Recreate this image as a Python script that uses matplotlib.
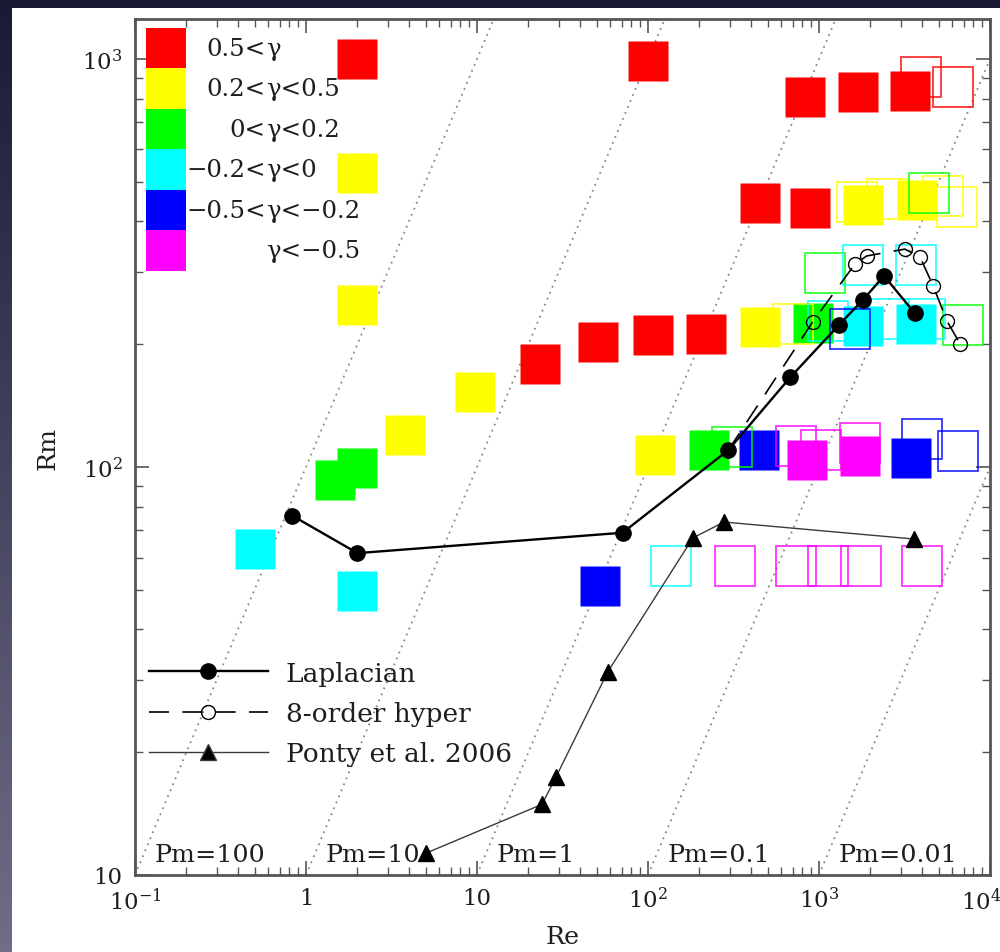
import numpy as np
import matplotlib
matplotlib.use("Agg")
from matplotlib import pyplot as plt
from matplotlib.lines import Line2D
from matplotlib.patches import Rectangle
from matplotlib import ticker
from matplotlib.transforms import offset_copy

plt.rcParams["font.family"] = ["DejaVu Serif", "DejaVu Sans"]
plt.rcParams["mathtext.fontset"] = "dejavuserif"

# filled squares = this work, open squares = second set of runs
RED_FILL_RE = [2.0, 100, 830, 1690, 3400, 452, 886, 23.4, 51, 107, 218]
RED_FILL_RM = [1000, 990, 807, 830, 835, 444, 431, 179, 202, 211, 212]
RED_OPEN_RE = [3950, 6080]
RED_OPEN_RM = [903, 854]

YEL_FILL_RE = [2.0, 2.0, 3.8, 9.7, 110, 452, 1808, 3740]
YEL_FILL_RM = [526, 250, 120, 153, 107, 220, 439, 451]
YEL_OPEN_RE = [1668, 2500, 5310, 6410, 705]
YEL_OPEN_RM = [446, 454, 462, 434, 224]

GRN_FILL_RE = [1.48, 2.0, 922, 227]
GRN_FILL_RM = [93, 99.4, 225, 110]
GRN_OPEN_RE = [1084, 4400, 6950, 310]
GRN_OPEN_RM = [299, 469, 223, 112]

CYN_FILL_RE = [0.5, 2.0, 1808, 3690]
CYN_FILL_RM = [63, 49.7, 221.5, 224]
CYN_OPEN_RE = [1129, 1808, 3690, 2570, 4170, 136]
CYN_OPEN_RM = [228, 313, 313, 230, 230, 57.2]

BLU_FILL_RE = [52.4, 446, 3450]
BLU_FILL_RM = [51.1, 110, 105.2]
BLU_OPEN_RE = [1518, 4000, 6500]
BLU_OPEN_RM = [218, 117, 109.5]

MAG_FILL_RE = [851, 1738]
MAG_FILL_RM = [104, 106.4]
MAG_OPEN_RE = [733, 1028, 1738, 323, 733, 1129, 1762, 4000]
MAG_OPEN_RM = [112.5, 110, 114.5, 57.2, 57.2, 57.2, 57.2, 57.2]

LAP_RE = [0.83, 2.0, 71, 295, 680, 1310, 1810, 2400, 3640]
LAP_RM = [76, 61.5, 69, 110, 166, 223, 257, 294, 238]

HYP_RE = [295, 920, 1620, 1900, 3180, 3900, 4650, 5600, 6700]
HYP_RM = [110, 227, 314, 329, 342, 327, 278, 228, 200]

PONTY_RE = [5.0, 24, 29, 58, 183, 278, 3600]
PONTY_RM = [11.3, 14.9, 17.4, 31.4, 67, 73.3, 66.6]

PM_VALUES = [100, 10, 1, 0.1, 0.01]
PM_LABELS = ["Pm=100", "Pm=10", "Pm=1", "Pm=0.1", "Pm=0.01"]

GAMMA_COLORS = ["#ff0000", "#ffff00", "#00ff00", "#00ffff", "#0000ff", "#ff00ff"]
GAMMA_LEFT = ["0.5<", "0.2<", "0<", "\u22120.2<", "\u22120.5<", ""]
GAMMA_RIGHT = ["\u03b3", "\u03b3<0.5", "\u03b3<0.2", "\u03b3<0", "\u03b3<\u22120.2", "\u03b3<\u22120.5"]

FS = 16.5      # tick labels
FS_KEY = 18.3  # Pm labels, axis labels
FS_GAM = 17.6  # colour key
FS_LEG = 19    # line legend
TXT = "#1e1e1e"

fig = plt.figure(figsize=(10, 9.53), dpi=100)

# slide background + white panel
bg = fig.add_axes([0, 0, 1, 1])
bg.axis("off")
t = np.linspace(0, 1, 200)[:, None, None]
top = np.array([26, 26, 52]) / 255
bot = np.array([112, 110, 135]) / 255
grad = np.repeat(top + (bot - top) * t, 2, axis=1)
bg.imshow(grad, extent=(0, 1, 0, 1), aspect="auto", transform=bg.transAxes)
bg.add_patch(Rectangle((0.012, 0), 0.988, 0.9906, transform=bg.transAxes,
                       fc="white", ec="none"))
bg.set_xlim(0, 1)
bg.set_ylim(0, 1)

ax = fig.add_axes([0.135, 0.0808, 0.855, 0.8982])
ax.set_xscale("log")
ax.set_yscale("log")
ax.set_xlim(0.1, 1e4)
ax.set_ylim(10, 1253)

# constant Pm lines
re_line = np.array([0.1, 1e4])
for pm, lab in zip(PM_VALUES, PM_LABELS):
    ax.plot(re_line, pm * re_line, color="#888888", lw=1.3,
            ls=(0, (1, 2.6)), zorder=1)
    ax.text(1.3 * 10 / pm, 11.2, lab, fontsize=FS_KEY, ha="left", va="center",
            color=TXT, zorder=2)

sq = 28.8
filled = [
    (RED_FILL_RE, RED_FILL_RM), (YEL_FILL_RE, YEL_FILL_RM),
    (GRN_FILL_RE, GRN_FILL_RM), (CYN_FILL_RE, CYN_FILL_RM),
    (BLU_FILL_RE, BLU_FILL_RM), (MAG_FILL_RE, MAG_FILL_RM),
]
opened = [
    (RED_OPEN_RE, RED_OPEN_RM), (YEL_OPEN_RE, YEL_OPEN_RM),
    (GRN_OPEN_RE, GRN_OPEN_RM), (CYN_OPEN_RE, CYN_OPEN_RM),
    (BLU_OPEN_RE, BLU_OPEN_RM), (MAG_OPEN_RE, MAG_OPEN_RM),
]
for (x, y), c in zip(filled, GAMMA_COLORS):
    ax.plot(x, y, ls="none", marker="s", ms=sq, mfc=c, mec="none", zorder=3)
for (x, y), c in zip(opened, GAMMA_COLORS):
    ax.plot(x, y, ls="none", marker="s", ms=sq, mfc="none", mec=c,
            mew=1.3, alpha=0.8, zorder=4)

ax.plot(LAP_RE, LAP_RM, color="black", lw=1.7, marker="o", ms=11, zorder=6)
ax.plot(HYP_RE, HYP_RM, color="black", lw=1.2, dashes=(12, 8), marker="o",
        ms=10, mfc="none", mew=1.0, markevery=slice(1, None), zorder=5)
ax.plot(PONTY_RE, PONTY_RM, color="#3a3a3a", lw=1.0, marker="^", ms=12,
        mfc="black", mec="black", zorder=5)

# gamma colour key, text lined up on the gamma
split = 0.153
for i, (c, left, right) in enumerate(zip(GAMMA_COLORS, GAMMA_LEFT, GAMMA_RIGHT)):
    y0 = 0.9895 - 0.0473 * (i + 1)
    ax.add_patch(Rectangle((0.0129, y0), 0.0468, 0.0473, transform=ax.transAxes,
                           fc=c, ec="none", zorder=7))
    yc = y0 + 0.0473 / 2
    ax.text(split, yc, left, transform=ax.transAxes, fontsize=FS_GAM,
            ha="right", va="center", color=TXT, zorder=7)
    ax.text(split, yc, right, transform=ax.transAxes, fontsize=FS_GAM,
            ha="left", va="center", color=TXT, zorder=7)

handles = [
    Line2D([], [], color="black", lw=1.7, marker="o", ms=11),
    Line2D([], [], color="black", lw=1.2, dashes=(12, 8), marker="o", ms=10,
           mfc="none", mew=1.0),
    Line2D([], [], color="#3a3a3a", lw=1.0, marker="^", ms=12, mfc="black"),
]
leg = ax.legend(handles, ["Laplacian", "8-order hyper", "Ponty et al. 2006"],
                loc="upper left", bbox_to_anchor=(0.0164, 0.2505), frameon=False,
                fontsize=FS_LEG, handlelength=4.5, handletextpad=0.68,
                labelspacing=0.58, borderpad=0, borderaxespad=0, numpoints=1)
for txt in leg.get_texts():
    txt.set_color(TXT)


def log_label(v, pos):
    e = int(round(np.log10(v)))
    if e == 0:
        return "1"
    if e == 1:
        return "10"
    return r"$10^{%d}$" % e


ax.xaxis.set_major_formatter(ticker.FuncFormatter(log_label))
ax.yaxis.set_major_formatter(ticker.FuncFormatter(log_label))
ax.xaxis.set_minor_formatter(ticker.NullFormatter())
ax.yaxis.set_minor_formatter(ticker.NullFormatter())
ax.tick_params(which="both", direction="in", top=True, right=True,
               color="#555555", labelsize=FS, labelcolor=TXT)
ax.tick_params(which="major", length=10, width=1.2, pad=9)
ax.tick_params(which="minor", length=5.5, width=1.0)
for s in ax.spines.values():
    s.set_color("#555555")
    s.set_linewidth(2.0)

ax.set_xlabel("Re", fontsize=FS_KEY, color=TXT, labelpad=8)
ax.set_ylabel("Rm", fontsize=FS_KEY, color=TXT, labelpad=16)

# the last x label sits at the figure edge; pull it inside a little
fig.canvas.draw()
for lab in ax.get_xticklabels():
    if lab.get_text() == r"$10^{4}$":
        lab.set_transform(offset_copy(lab.get_transform(), fig=fig, x=-9, y=0,
                                      units="dots"))

fig.savefig("out.png", dpi=100)
